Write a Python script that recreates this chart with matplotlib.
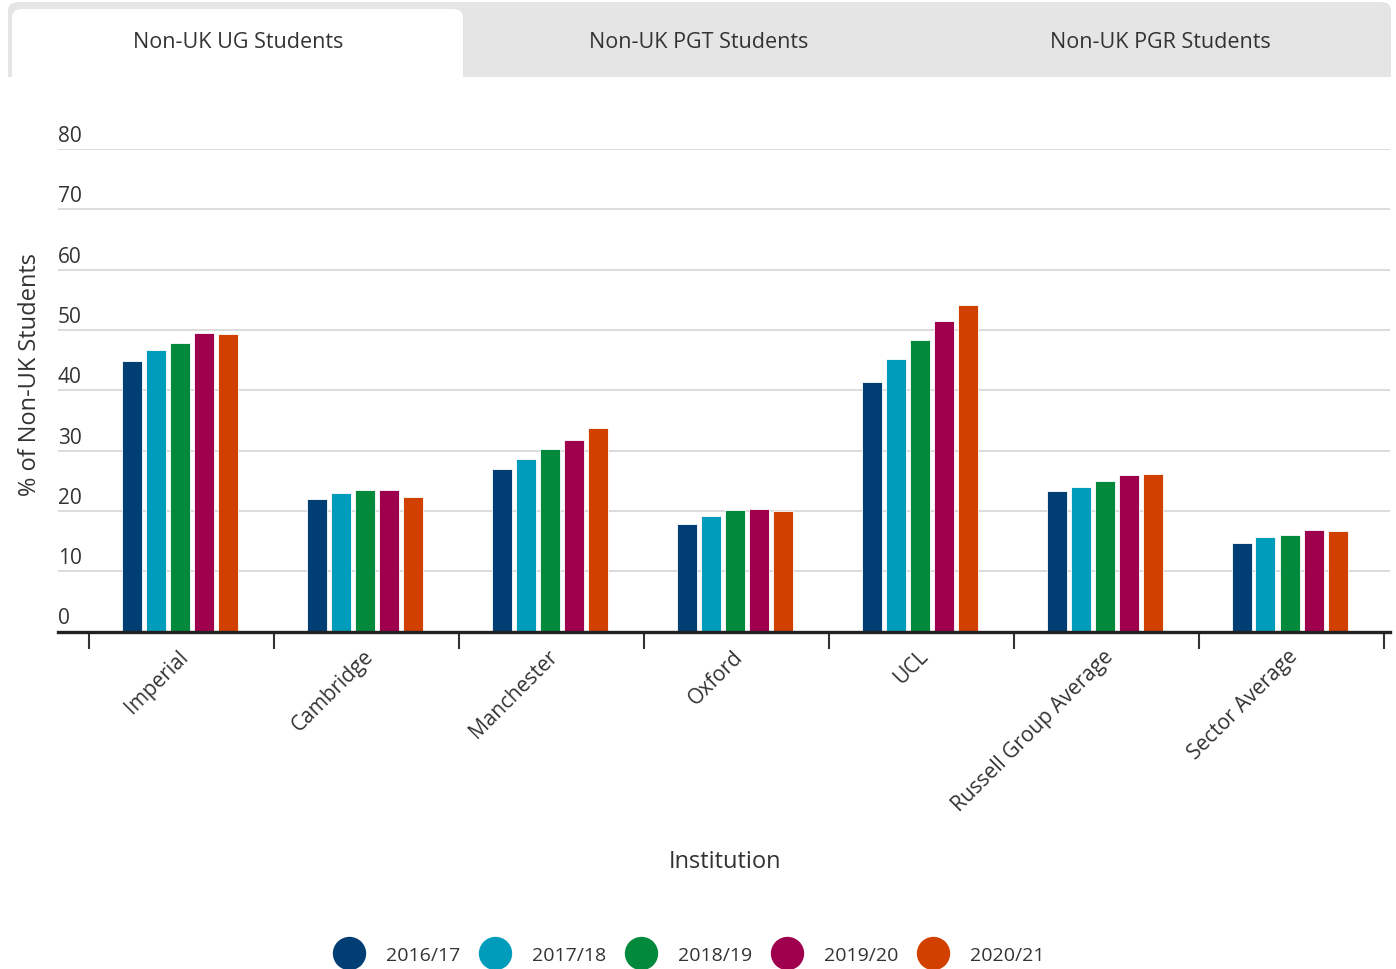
import matplotlib.pyplot as plt
import matplotlib.transforms as mtrans
from matplotlib.patches import FancyBboxPatch, Rectangle
from matplotlib.lines import Line2D
import numpy as np

plt.rcParams['font.family'] = ['Open Sans', 'DejaVu Sans']

institutions = ["Imperial", "Cambridge", "Manchester", "Oxford", "UCL",
                "Russell Group Average", "Sector Average"]
years = ["2016/17", "2017/18", "2018/19", "2019/20", "2020/21"]

y2016 = [44.8, 21.9, 26.9, 17.9, 41.4, 23.3, 14.7]
y2017 = [46.7, 22.9, 28.6, 19.1, 45.1, 24.0, 15.6]
y2018 = [47.9, 23.4, 30.2, 20.1, 48.4, 24.9, 16.0]
y2019 = [49.5, 23.5, 31.8, 20.3, 51.5, 25.9, 16.8]
y2020 = [49.4, 22.3, 33.8, 19.9, 54.2, 26.1, 16.6]
series = [y2016, y2017, y2018, y2019, y2020]

colors = ['#003e74', '#009cbc', '#02893b', '#9f004e', '#d24000']
tabs = ["Non-UK UG Students", "Non-UK PGT Students", "Non-UK PGR Students"]
text_col = '#333333'

W, H = 1396, 970
fig = plt.figure(figsize=(W / 100, H / 100), dpi=100)

# tab strip at the top
def fx(px):
    return px / W

def fy(py):
    return 1 - py / H

strip = FancyBboxPatch((fx(8), fy(90)), fx(1391) - fx(8), fy(3) - fy(90),
                       boxstyle="round,pad=0,rounding_size=0.008",
                       transform=fig.transFigure, facecolor='#e5e5e5',
                       edgecolor='none', zorder=0)
fig.patches.append(strip)
fig.patches.append(Rectangle((0, fy(100)), 1, fy(78) - fy(100), transform=fig.transFigure,
                             facecolor='white', edgecolor='none', zorder=1))
active = FancyBboxPatch((fx(12), fy(95)), fx(463) - fx(12), fy(10) - fy(95),
                        boxstyle="round,pad=0,rounding_size=0.008",
                        transform=fig.transFigure, facecolor='white',
                        edgecolor='none', zorder=2)
fig.patches.append(active)
for cx, t in zip([238, 699, 1160], tabs):
    fig.text(fx(cx), fy(43), t, ha='center', va='center', fontsize=15.5,
             color=text_col, zorder=3)

ax = fig.add_axes([fx(58), fy(632.5), fx(1390) - fx(58), fy(150) - fy(632.5)])
ax.set_facecolor('none')

x = np.arange(len(institutions))
pitch = 24 / 185
width = 20 / 185
nudge = -2 / 185
for j, (vals, col, yr) in enumerate(zip(series, colors, years)):
    ax.bar(x + (j - 2) * pitch + nudge, vals, width, color=col, edgecolor='white',
           linewidth=0.6, label=yr, zorder=3)

ax.set_xlim(-0.5 - 31 / 185, -0.5 + (1390 - 89) / 185)
ax.set_ylim(0, 80)

# y grid + labels above the lines
ax.set_yticks(range(0, 81, 10))
ax.yaxis.grid(True, color='#d9d9d9', linewidth=1.3, zorder=0)
ax.tick_params(axis='y', length=0, labelleft=False)
off = mtrans.ScaledTranslation(0, 8 / 100, fig.dpi_scale_trans)
for v in range(0, 81, 10):
    ax.text(0, v, str(v), transform=ax.get_yaxis_transform() + off,
            ha='left', va='baseline', fontsize=15, color=text_col)

# x ticks at group boundaries, labels at centres
ax.set_xticks(np.arange(-0.5, len(institutions), 1))
ax.set_xticklabels([])
ax.tick_params(axis='x', which='major', length=12, width=1.5, color='#333333')
ax.set_xticks(x, institutions, minor=True)
ax.tick_params(axis='x', which='minor', length=0, pad=10, labelsize=15,
               labelcolor=text_col)
shift = mtrans.ScaledTranslation(-4 / 100, 0, fig.dpi_scale_trans)
for lbl in ax.get_xticklabels(minor=True):
    lbl.set_rotation(45)
    lbl.set_ha('right')
    lbl.set_va('top')
    lbl.set_rotation_mode('anchor')
    lbl.set_transform(lbl.get_transform() + shift)

for s in ['top', 'right', 'left']:
    ax.spines[s].set_visible(False)
ax.spines['bottom'].set_color('#222222')
ax.spines['bottom'].set_linewidth(2.4)
ax.spines['bottom'].set_zorder(4)

fig.text(fx(725), fy(862), "Institution", ha='center', va='center',
         fontsize=17, color=text_col)
fig.text(fx(30), fy(375), "% of Non-UK Students", ha='center', va='center',
         rotation=90, fontsize=17, color=text_col)

handles = [Line2D([], [], marker='o', linestyle='none', markersize=23,
                  markerfacecolor=c, markeredgecolor=c) for c in colors]
fig.legend(handles, years, loc='center', bbox_to_anchor=(fx(689), fy(956)),
           ncol=5, frameon=False, fontsize=14, labelcolor=text_col,
           handlelength=1.6, handletextpad=1.1, columnspacing=1.0)

fig.savefig("out.png", dpi=100)
